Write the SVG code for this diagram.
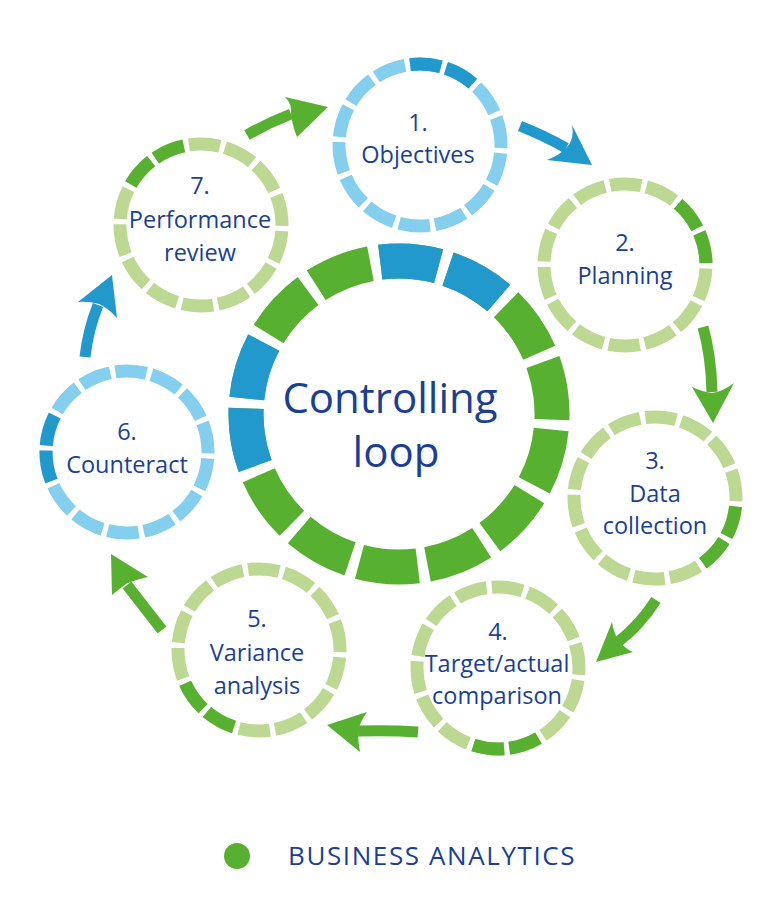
<svg xmlns="http://www.w3.org/2000/svg" width="780" height="917" viewBox="0 0 780 917">
<style>
.t{font-family:"Open Sans","Liberation Sans",sans-serif;fill:#1a3f95;text-anchor:middle;font-size:23.5px}
.big{font-size:42px}
.ring{fill:none;stroke-width:13}
.lg{stroke:#bdd893}.dg{stroke:#58b031}.lb{stroke:#85cfee}.db{stroke:#2199cd}
.base{stroke-dasharray:22 3.71}
.two{stroke-dasharray:22 3.71 22 312.29}
.shaft{fill:none;stroke-width:11}
</style>
<rect width="780" height="917" fill="#fff"/>
<g id="center">
<circle cx="399" cy="414" r="153" pathLength="360" class="ring dg base" style="stroke-width:35" transform="rotate(-97 399 414)"/>
<circle cx="399" cy="414" r="153" pathLength="360" class="ring db two" style="stroke-width:35" transform="rotate(-97 399 414)"/>
<circle cx="399" cy="414" r="153" pathLength="360" class="ring db two" style="stroke-width:35" transform="rotate(-199.86 399 414)"/>
<text class="t big" x="390" y="413">Controlling</text>
<text class="t big" x="396" y="467">loop</text>
</g>
<g id="n1">
<circle cx="420" cy="145" r="81" pathLength="360" class="ring lb base" transform="rotate(-97 420 145)"/>
<circle cx="420" cy="145" r="81" pathLength="360" class="ring db two" transform="rotate(-97 420 145)"/>
<text class="t" x="418" y="131">1.</text><text class="t" x="418" y="163">Objectives</text>
</g>
<g id="n2">
<circle cx="625" cy="265" r="81" pathLength="360" class="ring lg base" transform="rotate(-49 625 265)"/>
<circle cx="625" cy="265" r="81" pathLength="360" class="ring dg two" transform="rotate(-49 625 265)"/>
<text class="t" x="625" y="251">2.</text><text class="t" x="625" y="284">Planning</text>
</g>
<g id="n3">
<circle cx="655" cy="498" r="81" pathLength="360" class="ring lg base" transform="rotate(6 655 498)"/>
<circle cx="655" cy="498" r="81" pathLength="360" class="ring dg two" transform="rotate(6 655 498)"/>
<text class="t" x="655" y="469">3.</text><text class="t" x="655" y="502">Data</text><text class="t" x="655" y="534">collection</text>
</g>
<g id="n4">
<circle cx="498" cy="668" r="81" pathLength="360" class="ring lg base" transform="rotate(60 498 668)"/>
<circle cx="498" cy="668" r="81" pathLength="360" class="ring dg two" transform="rotate(60 498 668)"/>
<text class="t" x="498" y="640">4.</text><text class="t" x="497" y="672">Target/actual</text><text class="t" x="497" y="704">comparison</text>
</g>
<g id="n5">
<circle cx="259" cy="650" r="81" pathLength="360" class="ring lg base" transform="rotate(108 259 650)"/>
<circle cx="259" cy="650" r="81" pathLength="360" class="ring dg two" transform="rotate(108 259 650)"/>
<text class="t" x="257" y="627">5.</text><text class="t" x="257" y="661">Variance</text><text class="t" x="257" y="694">analysis</text>
</g>
<g id="n6">
<circle cx="127" cy="452" r="81" pathLength="360" class="ring lb base" transform="rotate(159 127 452)"/>
<circle cx="127" cy="452" r="81" pathLength="360" class="ring db two" transform="rotate(159 127 452)"/>
<text class="t" x="127" y="440">6.</text><text class="t" x="127" y="473">Counteract</text>
</g>
<g id="n7">
<circle cx="201" cy="225" r="81" pathLength="360" class="ring lg base" transform="rotate(210 201 225)"/>
<circle cx="201" cy="225" r="81" pathLength="360" class="ring dg two" transform="rotate(210 201 225)"/>
<text class="t" x="200" y="194">7.</text><text class="t" x="200" y="228">Performance</text><text class="t" x="200" y="261">review</text>
</g>
<g id="connectors">
<path class="shaft" stroke="#2199cd" d="M520,126 Q545,136 566,148"/>
<path fill="#2199cd" d="M592,165 L572,125 Q575,140 566,148 Q560,155 547,160 Z"/>
<path class="shaft" stroke="#58b031" d="M703,327 Q711,355 712,392"/>
<path fill="#58b031" d="M713,423 L692,387 Q703,392 712,393 Q722,392 734,383 Z"/>
<path class="shaft" stroke="#58b031" d="M656,600 Q640,625 618,642"/>
<path fill="#58b031" d="M596,662 L612,622 Q614,634 619,641 Q624,648 633,652 Z"/>
<path class="shaft" stroke="#58b031" d="M418,732 Q390,730 358,731"/>
<path fill="#58b031" d="M327,725 L367,712 Q360,722 358,731 Q358,742 360,752 Z"/>
<path class="shaft" stroke="#58b031" d="M162,630 Q145,608 127,585"/>
<path fill="#58b031" d="M111,554 L148,577 Q135,580 126,584 Q118,590 112,595 Z"/>
<path class="shaft" stroke="#2199cd" d="M85,357 Q88,330 98,305"/>
<path fill="#2199cd" d="M112,275 L117,318 Q108,308 99,304 Q88,301 78,302 Z"/>
<path class="shaft" stroke="#58b031" d="M247,135 Q268,123 291,114"/>
<path fill="#58b031" d="M328,107 L285,97 Q292,104 291,113 Q292,125 297,137 Z"/>
</g>
<g id="legend">
<circle cx="237" cy="856" r="13" fill="#58b031"/>
<text class="t" x="288" y="865" style="text-anchor:start;font-size:26px;letter-spacing:1.6px">BUSINESS ANALYTICS</text>
</g>
</svg>
